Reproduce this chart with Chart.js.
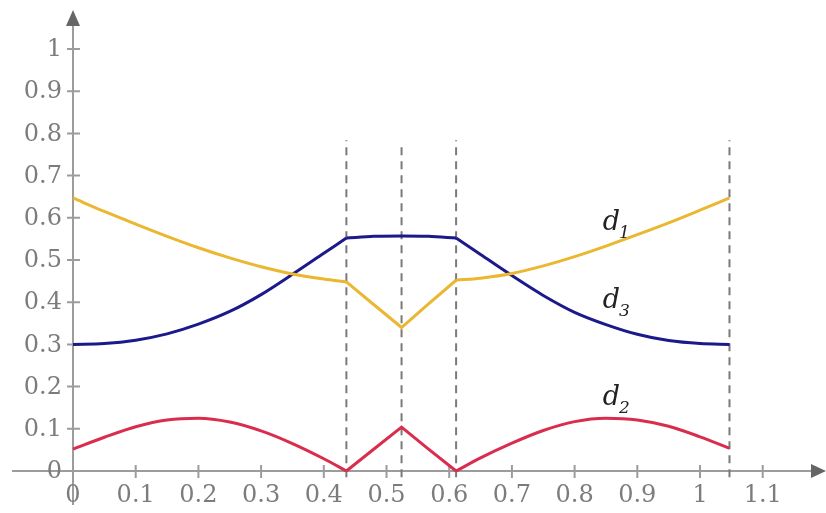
<!DOCTYPE html>
<html>
<head>
<meta charset="utf-8">
<script src="https://cdn.jsdelivr.net/npm/chart.js@4.4.0/dist/chart.umd.min.js"></script>
<style>
html, body { margin: 0; padding: 0; background: #fff; }
#wrap { width: 826px; height: 513px; }
</style>
</head>
<body>
<div id="wrap"><canvas id="chart"></canvas></div>
<script>
// x positions read on the picture (three pieces, split at the dashed lines)
var xLeft  = [0, 0.05, 0.1, 0.15, 0.2, 0.25, 0.3, 0.35, 0.4, 0.436];
var xMid   = [0.436, 0.48, 0.524, 0.567, 0.611];
var xRight = [0.611, 0.65, 0.7, 0.75, 0.8, 0.85, 0.9, 0.95, 1.0, 1.047];

// d1 (yellow)
var d1Left  = [0.647, 0.615, 0.585, 0.556, 0.529, 0.505, 0.484, 0.467, 0.455, 0.448];
var d1Mid   = [0.448, 0.394, 0.340, 0.396, 0.452];
var d1Right = [0.452, 0.457, 0.468, 0.486, 0.508, 0.533, 0.560, 0.588, 0.618, 0.647];

// d2 (red)
var d2Left  = [0.052, 0.080, 0.105, 0.121, 0.125, 0.116, 0.095, 0.065, 0.029, 0];
var d2Mid   = [0, 0.052, 0.104, 0.052, 0];
var d2Right = [0, 0.031, 0.066, 0.096, 0.117, 0.125, 0.121, 0.106, 0.081, 0.054];

// d3 (blue)
var d3Left  = [0.300, 0.302, 0.310, 0.325, 0.348, 0.378, 0.418, 0.466, 0.516, 0.552];
var d3Mid   = [0.552, 0.556, 0.557, 0.556, 0.552];
var d3Right = [0.552, 0.513, 0.463, 0.416, 0.376, 0.347, 0.324, 0.309, 0.302, 0.300];

// vertical dashed markers
var markerX   = [0.436, 0.524, 0.611, 1.047];
var markerTop = [0.784, 0.772, 0.784, 0.784];

// axis ticks
var xTicks = [0, 0.1, 0.2, 0.3, 0.4, 0.5, 0.6, 0.7, 0.8, 0.9, 1, 1.1];
var xTickLabels = ['0', '0.1', '0.2', '0.3', '0.4', '0.5', '0.6', '0.7', '0.8', '0.9', '1', '1.1'];
var yTicks = [0, 0.1, 0.2, 0.3, 0.4, 0.5, 0.6, 0.7, 0.8, 0.9, 1];
var yTickLabels = ['0', '0.1', '0.2', '0.3', '0.4', '0.5', '0.6', '0.7', '0.8', '0.9', '1'];

var YELLOW = 'rgb(235,183,48)';
var RED = 'rgb(218,44,76)';
var BLUE = 'rgb(28,26,138)';
var TICK_FONT = '24px "DejaVu Serif"';
var TICK_COLOR = '#7c7c7c';

function zip(xs, ys) {
    return xs.map(function (x, i) { return { x: x, y: ys[i] }; });
}

function curve(xs, ys, color, mode) {
    return {
        data: zip(xs, ys),
        borderColor: color,
        borderWidth: 3,
        pointRadius: 0,
        fill: false,
        cubicInterpolationMode: mode,
        tension: mode === 'monotone' ? 0.4 : 0,
        order: 0
    };
}

var datasets = [
    curve(xLeft, d1Left, YELLOW, 'monotone'),
    curve(xMid, d1Mid, YELLOW, 'default'),
    curve(xRight, d1Right, YELLOW, 'monotone'),
    curve(xLeft, d2Left, RED, 'monotone'),
    curve(xMid, d2Mid, RED, 'default'),
    curve(xRight, d2Right, RED, 'monotone'),
    curve(xLeft, d3Left, BLUE, 'monotone'),
    curve(xMid, d3Mid, BLUE, 'monotone'),
    curve(xRight, d3Right, BLUE, 'monotone')
];

markerX.forEach(function (mx, i) {
    datasets.push({
        data: [{ x: mx, y: -0.015 }, { x: mx, y: markerTop[i] }],
        borderColor: '#7a7a7a',
        borderWidth: 2,
        borderDash: [8, 6],
        pointRadius: 0,
        fill: false,
        order: 1
    });
});

// curve names, placed in data coordinates
var curveLabels = [
    { sub: '1', x: 0.845, y: 0.571 },
    { sub: '3', x: 0.845, y: 0.386 },
    { sub: '2', x: 0.845, y: 0.157 }
];

var axesPlugin = {
    id: 'axes',
    beforeDatasetsDraw: function (chart) {
        var ctx = chart.ctx;
        var xs = chart.scales.x, ys = chart.scales.y;
        var area = chart.chartArea;
        var x0 = xs.getPixelForValue(0), y0 = ys.getPixelForValue(0);
        ctx.save();
        ctx.strokeStyle = '#9c9c9c';
        ctx.lineWidth = 2;
        ctx.beginPath();
        ctx.moveTo(area.left, y0);
        ctx.lineTo(area.right, y0);
        ctx.moveTo(x0, area.bottom);
        ctx.lineTo(x0, area.top);
        // ticks crossing the axes
        xTicks.forEach(function (v) {
            if (v === 0) return;
            var px = xs.getPixelForValue(v);
            ctx.moveTo(px, y0 - 6);
            ctx.lineTo(px, y0 + 7);
        });
        yTicks.forEach(function (v) {
            var py = ys.getPixelForValue(v);
            ctx.moveTo(x0 - 6, py);
            ctx.lineTo(x0 + 7, py);
        });
        ctx.stroke();
        // arrow heads
        ctx.fillStyle = '#666';
        ctx.beginPath();
        ctx.moveTo(x0, area.top - 15);
        ctx.lineTo(x0 - 7, area.top + 1);
        ctx.lineTo(x0 + 7, area.top + 1);
        ctx.closePath();
        ctx.fill();
        ctx.beginPath();
        ctx.moveTo(area.right + 12, y0);
        ctx.lineTo(area.right - 3, y0 - 7);
        ctx.lineTo(area.right - 3, y0 + 7);
        ctx.closePath();
        ctx.fill();
        // tick labels
        ctx.font = TICK_FONT;
        ctx.fillStyle = TICK_COLOR;
        ctx.textBaseline = 'middle';
        ctx.textAlign = 'right';
        yTicks.forEach(function (v, i) {
            ctx.fillText(yTickLabels[i], x0 - 11, ys.getPixelForValue(v) + 1);
        });
        ctx.textAlign = 'center';
        xTicks.forEach(function (v, i) {
            ctx.fillText(xTickLabels[i], xs.getPixelForValue(v), y0 + 25);
        });
        ctx.restore();
    },
    afterDatasetsDraw: function (chart) {
        var ctx = chart.ctx;
        var xs = chart.scales.x, ys = chart.scales.y;
        ctx.save();
        ctx.fillStyle = '#222';
        ctx.textBaseline = 'alphabetic';
        ctx.textAlign = 'left';
        curveLabels.forEach(function (l) {
            var px = xs.getPixelForValue(l.x), py = ys.getPixelForValue(l.y);
            ctx.font = 'italic 27px "DejaVu Serif"';
            ctx.fillText('d', px, py);
            var w = ctx.measureText('d').width;
            ctx.font = 'italic 17px "DejaVu Serif"';
            ctx.fillText(l.sub, px + w - 1, py + 8);
        });
        ctx.restore();
    }
};

new Chart(document.getElementById('chart').getContext('2d'), {
    type: 'line',
    data: { datasets: datasets },
    plugins: [axesPlugin],
    options: {
        responsive: true,
        maintainAspectRatio: false,
        animation: false,
        devicePixelRatio: 1,
        layout: { padding: { left: 12, right: 12, top: 25, bottom: 8 } },
        plugins: { legend: { display: false }, tooltip: { enabled: false } },
        scales: {
            x: {
                type: 'linear',
                min: -0.0973,
                max: 1.1818,
                position: { y: 0 },
                grid: { display: false, drawTicks: false },
                border: { display: false },
                ticks: { display: false }
            },
            y: {
                type: 'linear',
                min: -0.0806,
                max: 1.0569,
                position: { x: 0 },
                grid: { display: false, drawTicks: false },
                border: { display: false },
                ticks: { display: false }
            }
        }
    }
});
</script>
</body>
</html>
